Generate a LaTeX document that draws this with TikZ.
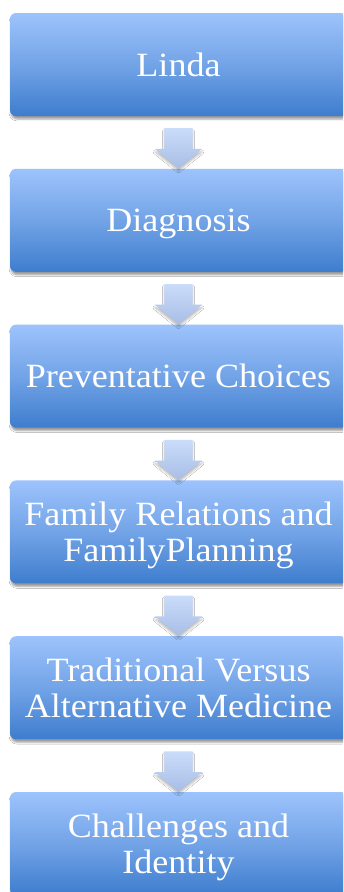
\documentclass[tikz,border=0pt]{standalone}
\usepackage{fontspec}
\setmainfont[FakeStretch=1.06]{Liberation Serif}
\usetikzlibrary{shapes.arrows,shadows.blur}

\definecolor{boxtop}{RGB}{157,195,252}
\definecolor{boxbot}{RGB}{62,125,205}
\definecolor{arrtop}{RGB}{202,220,250}
\definecolor{arrbot}{RGB}{168,190,230}

\newcommand{\ls}{\rule[-8pt]{0pt}{39pt}}
\lineskiplimit=-100pt

\tikzset{
  stagebox/.style={rectangle, rounded corners=6pt, minimum width=337pt, minimum height=103pt,
    inner sep=0pt, align=center, text=white,
    font=\fontsize{34}{36}\selectfont,
    top color=boxtop, bottom color=boxbot, middle color=boxtop!55!boxbot,
    blur shadow={shadow xshift=1pt, shadow yshift=-3pt}},
  downarrow/.style={single arrow, shape border rotate=270, inner sep=14pt,
    minimum height=39pt, single arrow head extend=9.5pt,
    single arrow tip angle=102, top color=arrtop, bottom color=arrbot,
    blur shadow={shadow xshift=0pt, shadow yshift=-3pt, shadow opacity=25}}
}

\begin{document}
\begin{tikzpicture}[x=1pt, y=-1pt]
  \fill[white] (0,0) rectangle (343,892);
  \useasboundingbox (0,0) rectangle (343,892);
  \clip (0,0) rectangle (343,892);

  % stages
  \node[stagebox] (linda) at (178.5,64.5) {\ls Linda};
  \node[stagebox] (diag) at (178.5,220.3) {\ls Diagnosis};
  \node[stagebox] (prev) at (178.5,376.1) {\ls Preventative Choices};
  \node[stagebox] (family) at (178.5,531.9) {\ls Family Relations and\\\ls FamilyPlanning};
  \node[stagebox] (medicine) at (178.5,687.7) {\ls Traditional Versus\\\ls Alternative Medicine};
  \node[stagebox] (identity) at (178.5,843.5) {\ls Challenges and\\\ls Identity};

  % arrows between the stages
  \path (linda) -- node[downarrow] (a1) {} (diag);
  \path (diag) -- node[downarrow] (a2) {} (prev);
  \path (prev) -- node[downarrow] (a3) {} (family);
  \path (family) -- node[downarrow] (a4) {} (medicine);
  \path (medicine) -- node[downarrow] (a5) {} (identity);
\end{tikzpicture}
\end{document}
